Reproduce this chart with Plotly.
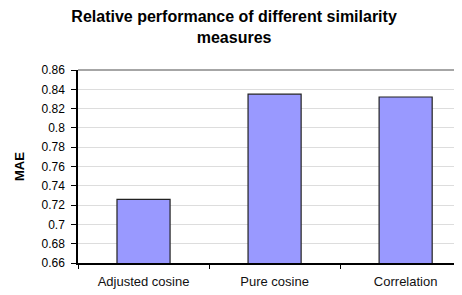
import plotly.graph_objects as go

categories = ["Adjusted cosine", "Pure cosine", "Correlation"]
mae_values = [0.726, 0.835, 0.832]
y_ticks = [0.66, 0.68, 0.70, 0.72, 0.74, 0.76, 0.78, 0.80, 0.82, 0.84, 0.86]
y_tick_text = ["0.66", "0.68", "0.7", "0.72", "0.74", "0.76", "0.78", "0.8", "0.82", "0.84", "0.86"]

fig = go.Figure()
fig.add_trace(go.Bar(
    x=categories, y=mae_values, width=0.405,
    marker=dict(color="#9999FF", line=dict(color="#222222", width=1.2)),
))

font = "Liberation Sans, Arial, Helvetica, sans-serif"
fig.update_layout(
    width=454, height=287,
    margin=dict(l=70, r=0, t=62, b=32),
    paper_bgcolor="white", plot_bgcolor="white",
    showlegend=False,
    font=dict(family=font, size=12, color="black"),
    title=dict(
        text="<b>Relative performance of different similarity<br>measures</b>",
        x=0.498, xanchor="center", y=0.951, yanchor="top",
        font=dict(family=font, size=16, color="black"),
    ),
    xaxis=dict(
        range=[-0.5, 2.43], tickson="boundaries", ticks="outside", ticklen=4,
        tickcolor="black", showline=True, linecolor="black", linewidth=1.5,
        showgrid=False, tickfont=dict(size=13, color="#111"), automargin=False,
        ticklabelstandoff=6,
    ),
    yaxis=dict(
        range=[0.66, 0.86], tickvals=y_ticks, ticktext=y_tick_text,
        ticks="outside", ticklen=5, tickcolor="black",
        showline=True, linecolor="black", linewidth=1.5,
        showgrid=True, gridcolor="#dddddd", gridwidth=1,
        tickfont=dict(size=12, color="black"),
        ticklabelstandoff=4,
        title=dict(text="<b>MAE</b>", font=dict(size=13, color="black"), standoff=14),
        zeroline=False, automargin=False,
    ),
    shapes=[dict(type="line", xref="paper", yref="paper", x0=0, x1=1, y0=1, y1=1,
                 line=dict(color="#888888", width=1.5))],
)
fig.write_html("out.html")
